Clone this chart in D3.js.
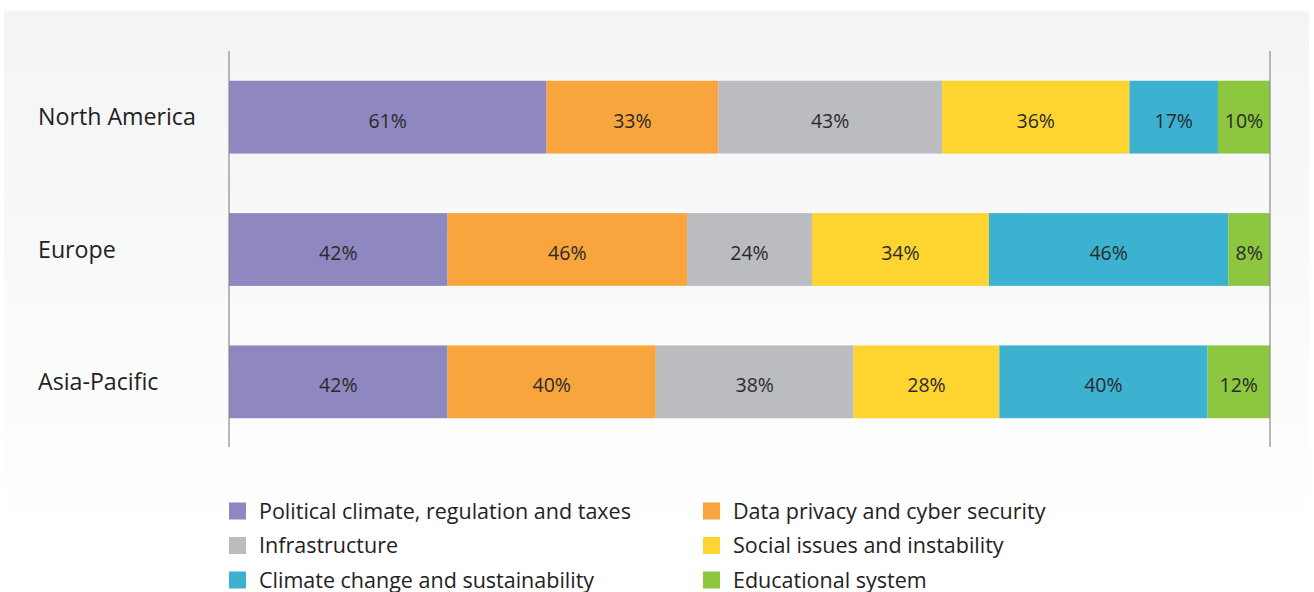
<!DOCTYPE html>
<html><head><meta charset="utf-8">
<script src="https://cdn.jsdelivr.net/npm/d3@7"></script>
<style>html,body{margin:0;padding:0;background:#fff;}svg{display:block;font-family:"Open Sans","Noto Sans",sans-serif;}</style>
</head><body><svg id="c" width="1314" height="592"></svg>
<script>
const regions = ["North America", "Europe", "Asia-Pacific"];
const seriesNames = ["Political climate, regulation and taxes", "Data privacy and cyber security", "Infrastructure", "Social issues and instability", "Climate change and sustainability", "Educational system"];
const political = [61, 42, 42];
const privacy = [33, 46, 40];
const infrastructure = [43, 24, 38];
const social = [36, 34, 28];
const climate = [17, 46, 40];
const education = [10, 8, 12];
const colors = ["#8e87c0", "#f8a53d", "#bbbcc0", "#fed530", "#3cb1d0", "#8dc63f"];

const seriesValues = [political, privacy, infrastructure, social, climate, education];
const rows = regions.map((r, i) => {
  const o = {region: r};
  seriesNames.forEach((s, j) => o[s] = seriesValues[j][i]);
  return o;
});

const svg = d3.select("#c");
const defs = svg.append("defs");
const g = defs.append("linearGradient").attr("id", "bg").attr("x1", 0).attr("y1", 0).attr("x2", 0).attr("y2", 1);
g.append("stop").attr("offset", "0%").attr("stop-color", "#f3f4f5");
g.append("stop").attr("offset", "100%").attr("stop-color", "#ffffff");
svg.append("rect").attr("x", 4).attr("y", 11).attr("width", 1305).attr("height", 520).attr("fill", "url(#bg)");

const x = d3.scaleLinear().domain([0, 200]).range([229, 1270]);
const y = d3.scaleBand().domain(regions).range([51, 448]).paddingInner(0.45).paddingOuter(0.225);

const stack = d3.stack().keys(seriesNames)(rows);

const layers = svg.append("g").selectAll("g").data(stack).join("g").attr("fill", (d, i) => colors[i]);
layers.selectAll("rect").data(d => d).join("rect")
  .attr("x", d => x(d[0])).attr("width", d => x(d[1]) - x(d[0]))
  .attr("y", d => y(d.data.region)).attr("height", y.bandwidth());

const lbl = svg.append("g").selectAll("g").data(stack).join("g");
lbl.selectAll("text").data(d => d.map(v => ({v, key: d.key}))).join("text")
  .attr("x", d => (x(d.v[0]) + x(d.v[1])) / 2)
  .attr("y", d => y(d.v.data.region) + y.bandwidth() / 2 + 10.5)
  .attr("text-anchor", "middle")
  .attr("font-size", 19.5).attr("fill", "#2a2a2a")
  .text(d => d.v.data[d.key] + "%");

// axis lines
[0, 200].forEach(v => svg.append("line").attr("x1", x(v)).attr("x2", x(v)).attr("y1", 51).attr("y2", 447)
  .attr("stroke", "#8a8a8a").attr("stroke-width", 1.2));

// region labels
svg.append("g").selectAll("text").data(regions).join("text")
  .attr("x", 38).attr("y", d => y(d) + y.bandwidth() / 2 + 8)
  .attr("font-size", 23.2).attr("fill", "#222")
  .text(d => d);

// legend
const legPos = seriesNames.map((s, i) => ({s, c: colors[i], col: i % 2, row: Math.floor(i / 2)}));
const leg = svg.append("g").selectAll("g").data(legPos).join("g")
  .attr("transform", d => `translate(${d.col ? 703 : 229},${511 + d.row * 34.5})`);
leg.append("rect").attr("x", 0).attr("y", -8.5).attr("width", 17).attr("height", 17).attr("fill", d => d.c);
leg.append("text").attr("x", 30).attr("y", 7.5).attr("font-size", 21.5).attr("fill", "#222").text(d => d.s);
</script></body></html>
